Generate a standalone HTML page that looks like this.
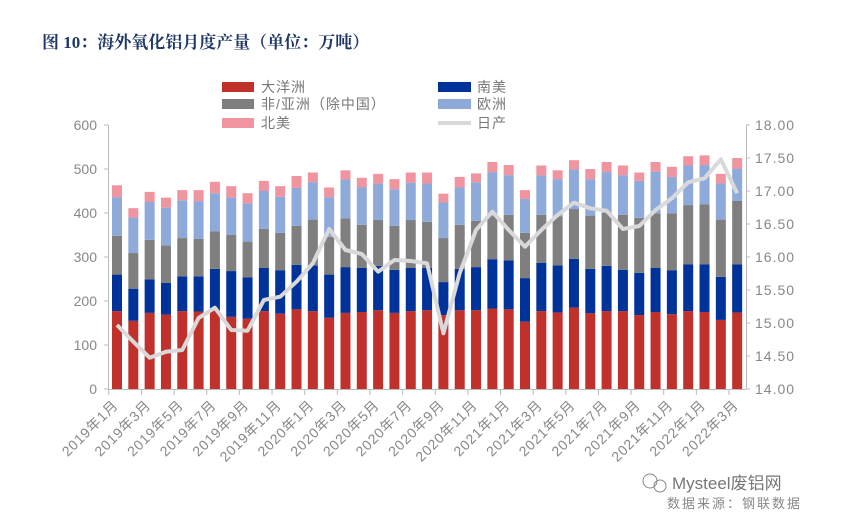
<!DOCTYPE html>
<html><head><meta charset="utf-8"><style>
html,body{margin:0;padding:0;background:#fff;width:857px;height:526px;overflow:hidden}
svg text{font-family:"Liberation Sans","Noto Sans CJK SC",sans-serif}
</style></head><body>
<svg id="c" width="857" height="526" xmlns="http://www.w3.org/2000/svg">
<text x="42" y="48" font-size="17" font-weight="bold" fill="#1f3864" style="font-family:'Liberation Serif','Noto Serif CJK SC',serif">图 10：海外氧化铝月度产量（单位：万吨）</text>
<rect x="222" y="82" width="32" height="10" fill="#c1312c"/><text x="261" y="92" font-size="14" fill="#777" letter-spacing="1">大洋洲</text>
<rect x="222" y="99" width="32" height="10" fill="#7f7f7f"/><text x="261" y="109" font-size="14" fill="#777" letter-spacing="1">非/亚洲（除中国）</text>
<rect x="222" y="118" width="32" height="10" fill="#f0959f"/><text x="261" y="128" font-size="14" fill="#777" letter-spacing="1">北美</text>
<rect x="438" y="82" width="33" height="10" fill="#003399"/><text x="477" y="92" font-size="14" fill="#777" letter-spacing="1">南美</text>
<rect x="438" y="99" width="33" height="10" fill="#8eaadb"/><text x="477" y="109" font-size="14" fill="#777" letter-spacing="1">欧洲</text>
<line x1="438" y1="123" x2="471" y2="123" stroke="#d9d9d9" stroke-width="4"/><text x="477" y="128" font-size="14" fill="#777" letter-spacing="1">日产</text>
<g id="g"></g>
<g fill="#888" stroke="#888">
<circle cx="650" cy="481" r="7" fill="none" stroke-width="1"/><circle cx="660" cy="486" r="6" fill="none" stroke-width="1"/>
</g>
<text x="672" y="489" font-size="17" fill="#777">Mysteel废铝网</text>
<text x="667" y="508" font-size="13" fill="#888" letter-spacing="2">数据来源：钢联数据</text>
</svg>
<script>
var D=[[177,260,348,436,463],[155,228,309,390,411],[173,249,339,425,448],[169,241,326,412,435],[177,256,343,429,452],[176,256,341,427,452],[178,273,358,445,471],[164,268,350,435,461],[160,254,335,422,445],[177,275,364,450,473],[171,270,355,437,461],[181,282,371,457,484],[177,281,385,470,492],[162,260,346,436,458],[173,277,388,476,497],[175,275,373,459,480],[179,280,384,467,489],[173,271,371,454,477],[177,275,384,469,492],[179,275,380,467,492],[168,243,343,424,444],[179,273,373,458,482],[179,277,382,470,490],[183,295,393,493,516],[181,292,396,486,509],[153,252,355,432,452],[177,287,396,485,508],[174,281,392,477,497],[185,296,409,499,520],[172,273,394,477,500],[177,280,400,493,516],[177,271,396,486,508],[168,264,389,473,492],[175,275,399,494,516],[170,270,399,482,505],[177,283,418,508,529],[175,283,420,509,531],[157,255,385,467,489],[174,283,428,501,525]];
var L=[325,341.7,357.7,351.7,350,318,307.7,330,330.7,300,296.7,281.7,263.3,229,250,254,271.7,260,261,263.3,333.3,273,230,211.7,230,246.7,230,215,202.7,208.3,210.7,229,226,210,198.3,182.3,178.3,159.3,193.3];
var C=["#c1312c","#003399","#7f7f7f","#8eaadb","#f0959f"];
var s="",y0=389,k=0.44,x0=117,dx=16.32;
function Y(v){return y0-v*k}
for(var i=0;i<D.length;i++){var cx=x0+i*dx,p=0;for(var j=0;j<5;j++){var v=D[i][j];s+='<rect x="'+(cx-5)+'" y="'+Y(v)+'" width="10" height="'+((v-p)*k)+'" fill="'+C[j]+'"/>';p=v;}}
s+='<polyline fill="none" stroke="#d9d9d9" stroke-width="4" stroke-linejoin="round" points="'+L.map(function(y,i){return (x0+i*dx)+','+y}).join(' ')+'"/>';
s+='<line x1="108.5" y1="125" x2="108.5" y2="389" stroke="#bbb"/><line x1="746.5" y1="125" x2="746.5" y2="389" stroke="#bbb"/><line x1="108" y1="389.5" x2="746" y2="389.5" stroke="#bbb"/>';
for(var t=0;t<=6;t++){var y=Y(t*100);s+='<line x1="104" y1="'+y+'" x2="108" y2="'+y+'" stroke="#bbb"/><text x="97" y="'+(y+5)+'" font-size="14" fill="#888" text-anchor="end">'+(t*100)+'</text>';}
for(var t=0;t<=8;t++){var r=(14+t*0.5).toFixed(2);var yr=389-t*33;s+='<line x1="746" y1="'+yr+'" x2="750" y2="'+yr+'" stroke="#bbb"/><text x="755" y="'+(yr+5)+'" font-size="14" fill="#888" letter-spacing="1">'+r+'</text>';}
for(var i=0;i<=19;i++){var tx=x0-dx/2+i*2*dx;s+='<line x1="'+tx+'" y1="389" x2="'+tx+'" y2="395" stroke="#bbb"/>';}
for(var i=0;i<20;i++){var m=i*2,yr=2019+Math.floor(m/12),mo=m%12+1,cx=x0+m*dx+2;s+='<text transform="translate('+cx+',406) rotate(-45)" font-size="14" fill="#888" text-anchor="end" letter-spacing="0.8">'+yr+'年'+mo+'月</text>';}
document.getElementById("g").innerHTML=s;
</script>
</body></html>
